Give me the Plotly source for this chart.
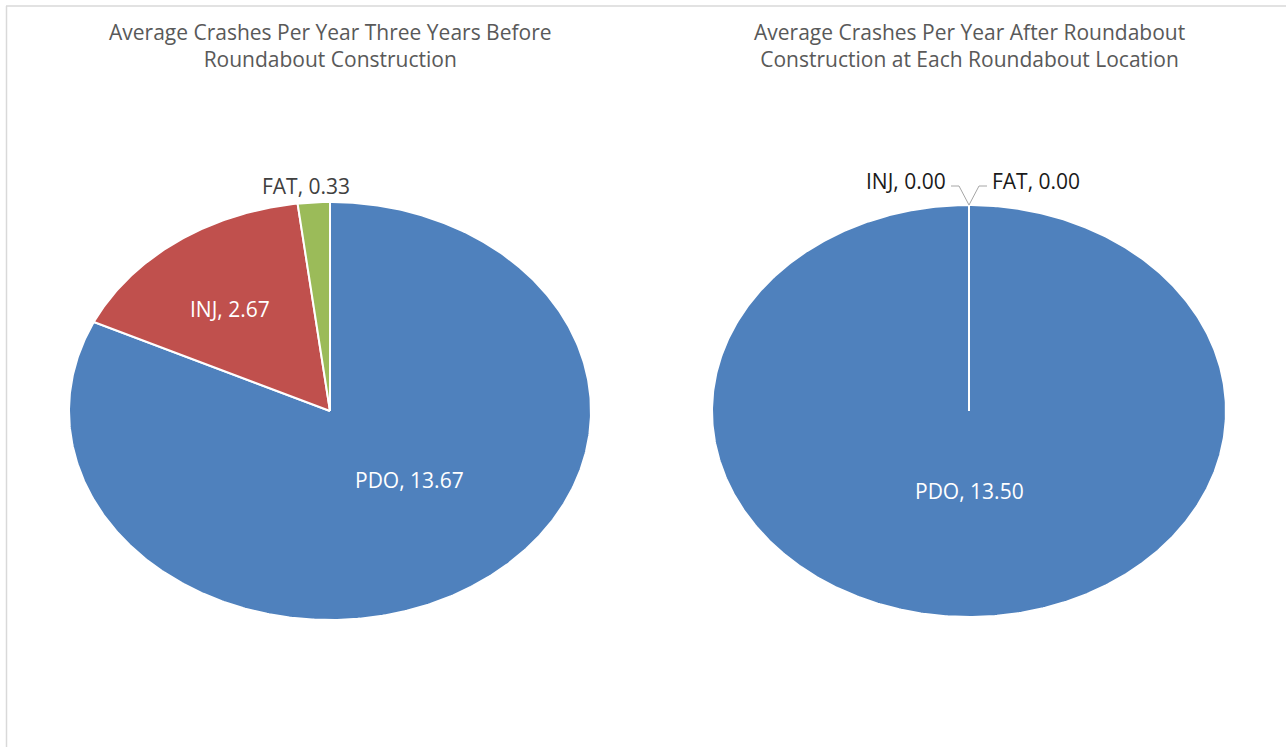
import numpy as np
import plotly.graph_objects as go

# ---- data ----
categories = ["PDO", "INJ", "FAT"]
before_values = [13.67, 2.67, 0.33]
after_values = [13.50, 0.00, 0.00]
titles = [
    "Average Crashes Per Year Three Years Before<br>Roundabout Construction",
    "Average Crashes Per Year After Roundabout<br>Construction at Each Roundabout Location",
]

# ---- style / layout ----
colors = ["#4F81BD", "#C0504D", "#9BBB59"]
W, H = 1286, 747
FONT = "Open Sans"
TSIZE = 21
LSIZE = 21
pies = [
    dict(values=before_values, cx=330, cy=411, rx=261, ry=209,
         labels=[("in", 0.57, 0.39), ("in", 0.65, 0.6), ("top", 0, 0)]),
    dict(values=after_values, cx=969, cy=411, rx=257, ry=206,
         labels=[("in", 0.0, 0.39), ("left", 0, 0), ("right", 0, 0)]),
]

fig = go.Figure()
annotations = []
shapes = []


def pt(p, ang, f=1.0, fx=None, fy=None):
    fx = f if fx is None else fx
    fy = f if fy is None else fy
    return (p["cx"] + fx * p["rx"] * np.sin(ang), p["cy"] - fy * p["ry"] * np.cos(ang))


for i, p in enumerate(pies):
    vals = p["values"]
    total = sum(vals)
    start = 0.0
    for cat, v, col, lab in zip(categories, vals, colors, p["labels"]):
        span = 2 * np.pi * v / total
        n = max(2, int(np.degrees(span) * 2))
        angs = np.linspace(start, start + span, n)
        xs = [p["cx"]] + [pt(p, a)[0] for a in angs] + [p["cx"]]
        ys = [p["cy"]] + [pt(p, a)[1] for a in angs] + [p["cy"]]
        fig.add_trace(go.Scatter(
            x=xs, y=ys, mode="lines", fill="toself", fillcolor=col,
            line=dict(color="white", width=2), hoverinfo="skip", showlegend=False))
        mid = start + span / 2
        text = f"{cat}, {v:.2f}"
        kind, fx, fy = lab
        if kind == "in":
            lx, ly = pt(p, mid, fx=fx, fy=fy) if fx else (p["cx"], pt(p, mid, fx=0, fy=fy)[1])
            annotations.append(dict(x=lx, y=ly, text=text, showarrow=False,
                                    font=dict(family=FONT, size=LSIZE, color="white")))
        elif kind == "top":
            ex, ey = pt(p, mid)
            annotations.append(dict(x=ex - 8, y=ey - 16, text=text, showarrow=False,
                                    font=dict(family=FONT, size=LSIZE, color="#404040")))
        else:
            ex, ey = pt(p, mid)
            sgn = -1 if kind == "left" else 1
            kx, ky = ex + sgn * 10, ey - 19
            hx = kx + sgn * 8
            shapes.append(dict(type="path", xref="x", yref="y",
                               path=f"M {ex} {ey} L {kx} {ky} L {hx} {ky}",
                               line=dict(color="#A6A6A6", width=1)))
            annotations.append(dict(x=hx + sgn * 3, y=ky - 5, text=text, showarrow=False,
                                    xanchor="right" if sgn < 0 else "left",
                                    font=dict(family=FONT, size=LSIZE, color="#1a1a1a")))
        start += span
    annotations.append(dict(x=p["cx"], y=45, text=titles[i], showarrow=False,
                            font=dict(family=FONT, size=TSIZE, color="#595959")))

shapes += [
    dict(type="line", xref="x", yref="y", x0=6, x1=W, y0=6, y1=6,
         line=dict(color="#D9D9D9", width=1.5)),
    dict(type="line", xref="x", yref="y", x0=6.5, x1=6.5, y0=6, y1=H,
         line=dict(color="#D9D9D9", width=1.5)),
]

fig.update_layout(
    width=W, height=H, margin=dict(l=0, r=0, t=0, b=0),
    paper_bgcolor="white", plot_bgcolor="white",
    xaxis=dict(range=[0, W], visible=False, fixedrange=True),
    yaxis=dict(range=[H, 0], visible=False, fixedrange=True),
    annotations=annotations, shapes=shapes,
)

fig.write_html("out.html", config={"displayModeBar": False},
               post_script="document.body.style.margin='0';document.body.style.overflow='hidden';")
